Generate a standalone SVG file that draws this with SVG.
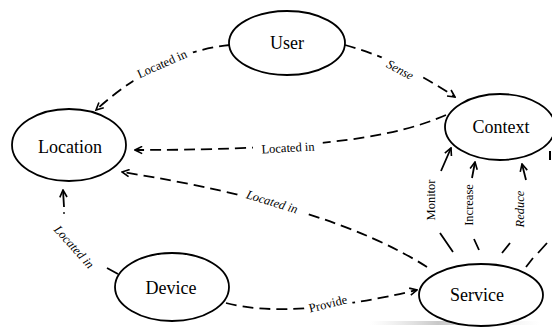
<svg xmlns="http://www.w3.org/2000/svg" width="552" height="327" viewBox="0 0 552 327">
<defs>
<style>
.node ellipse{fill:#fff;stroke:#000;stroke-width:1.8}
.node text{font-family:'Liberation Serif','DejaVu Serif',serif;font-size:18px;text-anchor:middle;fill:#000}
.c{fill:none;stroke:#000;stroke-width:1.8;stroke-dasharray:11 6}
.s{fill:none;stroke:#000;stroke-width:1.8}
.a{marker-end:url(#arr)}
.lbl text{font-family:'Liberation Serif','DejaVu Serif',serif;font-size:12.5px;text-anchor:middle;dominant-baseline:central;fill:#000}
.lbl rect{fill:#fff}
.it{font-style:italic}
</style>
<marker id="arr" viewBox="0 0 10 10" refX="9" refY="5" markerWidth="9" markerHeight="9" markerUnits="userSpaceOnUse" orient="auto">
<path d="M1,1 L9,5 L1,9" fill="none" stroke="#000" stroke-width="1.8" stroke-dasharray="none"/>
</marker>
<linearGradient id="sh" x1="0" x2="1" y1="0" y2="0">
<stop offset="0" stop-color="#ddd" stop-opacity="0"/>
<stop offset="0.4" stop-color="#c8c8c8"/>
<stop offset="1" stop-color="#ddd" stop-opacity="0"/>
</linearGradient>
</defs>
<rect width="552" height="327" fill="#fff"/>
<rect x="370" y="321" width="170" height="4" fill="url(#sh)"/>

<g id="connectors">
<path class="c a" d="M230,45 Q160,52 96,110"/>
<path class="c a" d="M345,45 Q400,60 455,97"/>
<path class="c a" d="M446,115 C400,135 330,150 135,150"/>
<path class="c a" d="M427,267 Q330,205 122,172"/>
<path class="s a" d="M118,274 L107,268 M64,207 L63,190"/>
<circle cx="64" cy="213" r="0.9" fill="#000"/>
<path class="c a" d="M226,303 Q290,320 417,290"/>
<path class="s a" d="M453,252 L440,233 M441,171 L451,148"/>
<path class="s a" d="M479,250 L474,239 M472,178 L475,162"/>
<path class="s a" d="M502,253 L510,243 M526,180 L522,164"/>
<path class="s" d="M526,267 L533,258 M538,253 L547,243"/>
<path d="M550,151 L550,160" fill="none" stroke="#000" stroke-width="2"/>
<g class="lbl">
<g transform="translate(162,64) rotate(-24)"><rect x="-33" y="-8" width="66" height="16"/><text x="0" y="0">Located in</text></g>
<g transform="translate(400,70) rotate(28)"><rect x="-22" y="-8" width="44" height="16"/><text class="it" x="0" y="0">Sense</text></g>
<g transform="translate(288,148) rotate(-3)"><rect x="-35" y="-8" width="70" height="16"/><text x="0" y="0">Located in</text></g>
<g transform="translate(272,202) rotate(17)"><rect x="-35" y="-8" width="70" height="16"/><text class="it" x="0" y="0">Located in</text></g>
<g transform="translate(74,247) rotate(48)"><text class="it" x="0" y="0">Located in</text></g>
<g transform="translate(328,304) rotate(-14)"><rect x="-24" y="-8" width="48" height="16"/><text x="0" y="0">Provide</text></g>
<g transform="translate(431,200) rotate(-90)"><text x="0" y="0">Monitor</text></g>
<g transform="translate(469,205) rotate(-90)"><text x="0" y="0">Increase</text></g>
<g transform="translate(520,209) rotate(-90)"><text class="it" x="0" y="0">Reduce</text></g>
</g>
</g>

<g id="user" class="node"><ellipse cx="287" cy="43" rx="58" ry="32"/><text x="287" y="49">User</text></g>
<g id="context" class="node"><ellipse cx="500" cy="127" rx="55" ry="33"/><text x="501" y="133">Context</text></g>
<g id="location" class="node"><ellipse cx="69" cy="145" rx="57" ry="36"/><text x="70" y="153">Location</text></g>
<g id="device" class="node"><ellipse cx="172" cy="287" rx="57" ry="34"/><text x="171" y="294">Device</text></g>
<g id="service" class="node"><ellipse cx="481" cy="295" rx="62" ry="31"/><text x="477" y="301">Service</text></g>
</svg>
